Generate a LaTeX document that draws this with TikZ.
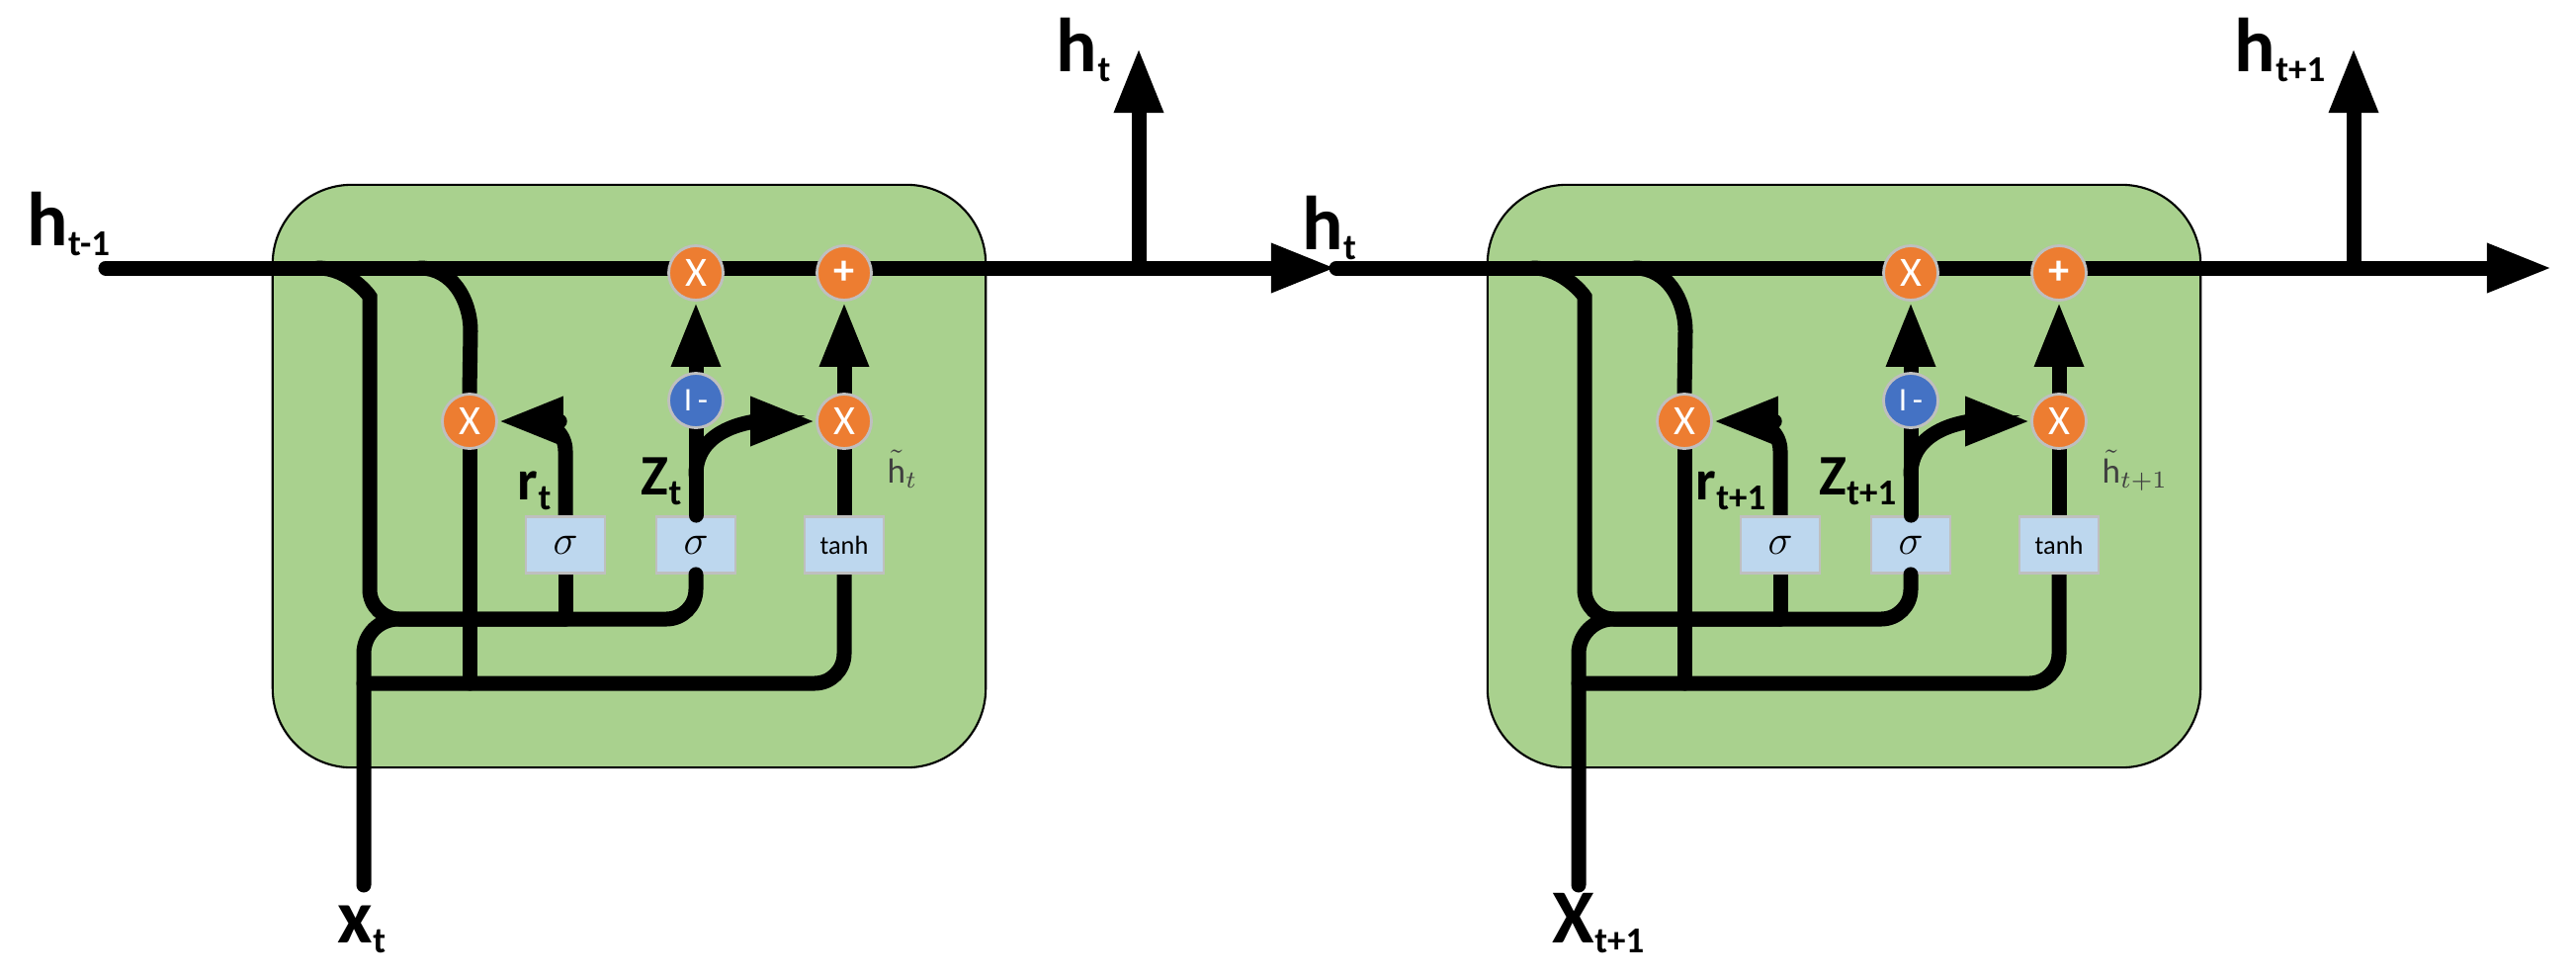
\documentclass[tikz,border=0pt]{standalone}
\usepackage{fontspec}
\setmainfont{Carlito}
\usetikzlibrary{arrows.meta}
\definecolor{cellgreen}{HTML}{A9D18E}
\definecolor{gateorange}{HTML}{ED7D31}
\definecolor{gateblue}{HTML}{4472C4}
\definecolor{boxblue}{HTML}{BDD7EE}
\tikzset{wire/.style={line width=0.15cm, line cap=round}}
\tikzset{arrow/.style={wire, -{Triangle[length=0.66cm, width=0.46cm]}}}
\tikzset{cellbox/.style={draw=black, line width=0.6pt, fill=cellgreen, rounded corners=0.8cm, minimum width=7.21cm, minimum height=5.89cm}}
\tikzset{op/.style={circle, draw=black!25, line width=0.8pt, minimum size=0.55cm, inner sep=0pt, text=white, font=\fontsize{12}{12}\selectfont}}
\tikzset{actbox/.style={draw=black!25, line width=0.8pt, fill=boxblue, minimum width=0.8cm, minimum height=0.57cm, inner sep=0pt, font=\fontsize{13}{13}\selectfont}}
\tikzset{iolabel/.style={inner sep=0pt, font=\fontsize{22}{24}\selectfont\bfseries}}
\tikzset{gatelabel/.style={inner sep=0pt, font=\fontsize{16.5}{18}\selectfont\bfseries}}
\newcommand{\subtxt}[1]{\raisebox{-3pt}{\fontsize{10.5}{12}\selectfont\bfseries #1}}
\pgfdeclarelayer{back}
\pgfdeclarelayer{wires}
\pgfsetlayers{back,wires,main}

\begin{document}
\begin{tikzpicture}[x=0.01cm, y=-0.01cm]
  \useasboundingbox (0,0) rectangle (2606,990);

  % hidden state line
  \coordinate (hin) at (107,271);
  \coordinate (hmid) at (1352,271);
  \coordinate (hout) at (2582,271);
  \begin{pgfonlayer}{wires}
    \draw[arrow] (hin) -- (hmid);
    \draw[arrow] (hmid) -- (hout);
  \end{pgfonlayer}
  \node[iolabel, anchor=base west] (lhin) at (27,248) {h\subtxt{t-1}};
  \node[iolabel, anchor=base west] (lhmid) at (1317,252) {h\subtxt{t}};

  \foreach \k/\dx/\st/\xl in {1/0/t/x, 2/1229/t+1/X}{
    \begin{scope}[shift={(\dx,0)}]
      \begin{pgfonlayer}{back}
        \node[cellbox] (cell\k) at (636.5,481.5) {};
        \node[actbox] (sigz\k) at (704,551) {$\sigma$};
      \end{pgfonlayer}
      \node[op, fill=gateorange] (umul\k) at (704,276) {X};
      \node[op, fill=gateorange] (uadd\k) at (854,276) {\textbf{+}};
      \node[op, fill=gateorange] (rmul\k) at (475,426) {X};
      \node[op, fill=gateblue, font=\fontsize{9.5}{10}\selectfont] (omin\k) at (704,405) {I\,-};
      \node[op, fill=gateorange] (hmul\k) at (854,426) {X};
      \node[actbox] (sigr\k) at (572,551) {$\sigma$};
      \node[actbox, font=\fontsize{7.5}{8}\selectfont] (tanh\k) at (854,551) {tanh};

      \coordinate (ta\k) at (322,271);
      \coordinate (tb\k) at (425,271);
      \coordinate (bus\k) at (572,626);
      \coordinate (xin\k) at (368,895);
      \coordinate (jx\k) at (368,691);
      \coordinate (zb\k) at (704,480);
      \coordinate (hj\k) at (1152,271);
      \coordinate (hup\k) at (1152,48);

      \begin{pgfonlayer}{wires}
        \draw[wire, rounded corners=0.3cm] (ta\k) to[out=0,in=90] (374,330) |- (bus\k) -| (sigz\k.south);
        \draw[wire, rounded corners=0.35cm] (xin\k) |- (bus\k);
        \draw[wire] (sigr\k.south) -- (bus\k);
        \draw[wire, rounded corners=0.3cm] (jx\k) -| (tanh\k.south);
        \draw[wire] (tb\k) to[out=0,in=90] (476,335) -- (rmul\k.north);
        \draw[wire] (rmul\k.south) -- (rmul\k.south |- jx\k);
        \draw[wire] (tanh\k.north) -- (hmul\k.south);
        \draw[arrow] (hmul\k.north) -- (uadd\k.south);
        \draw[wire] (sigz\k.north) -- (omin\k.south);
        \draw[arrow] (omin\k.north) -- (umul\k.south);
        \draw[arrow] (zb\k) to[out=90,in=180] (hmul\k.west);
        \draw[arrow, rounded corners=0.3cm] (sigr\k.north) |- (rmul\k.east);
        \draw[arrow] (hj\k) -- (hup\k);
      \end{pgfonlayer}

      \node[iolabel, anchor=base east] (lh\k) at (1124,72) {h\subtxt{\st}};
      \node[iolabel, anchor=base west] (lx\k) at (341,953) {\xl\subtxt{\st}};
      \node[gatelabel, anchor=base east] (lr\k) at (558,505) {r\subtxt{\st}};
      \node[gatelabel, anchor=base east] (lz\k) at (690,500) {Z\subtxt{\st}};
      \node[anchor=base west, inner sep=0pt, font=\fontsize{10}{10}\selectfont, text=black!75] (lc\k) at (897,488) {$\tilde{\mathrm{h}}_{\st}$};
    \end{scope}
  }
\end{tikzpicture}
\end{document}
